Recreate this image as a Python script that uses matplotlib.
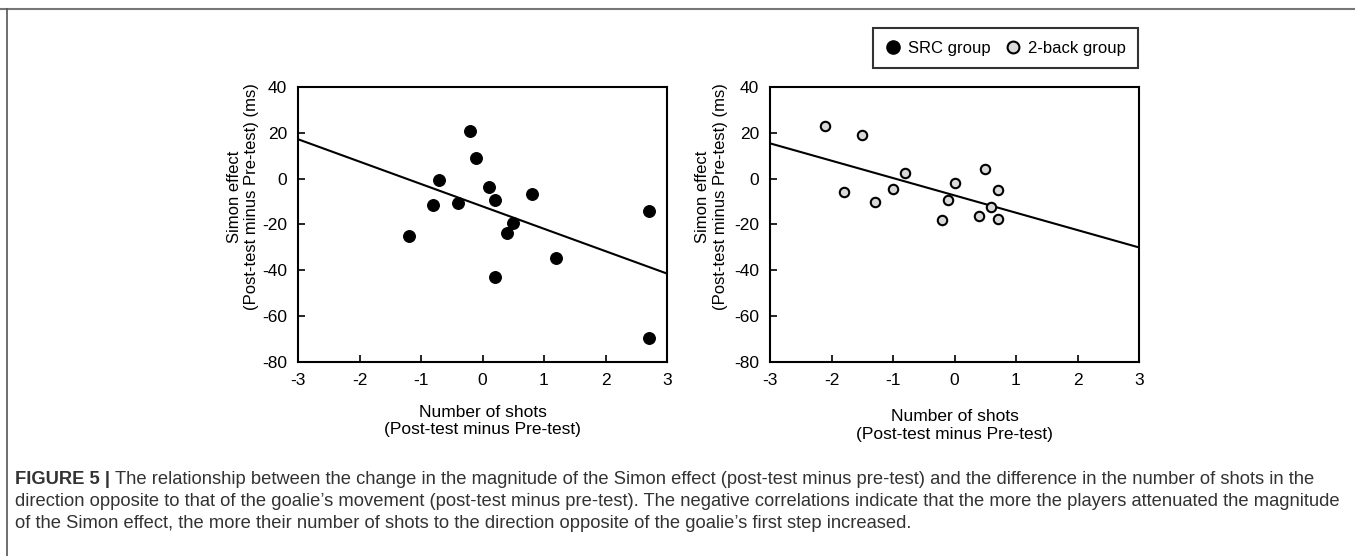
import numpy as np
import matplotlib.pyplot as plt
from matplotlib.lines import Line2D

plt.rcParams['font.family'] = ['Liberation Sans', 'DejaVu Sans']
plt.rcParams['axes.unicode_minus'] = False

# SRC group (left panel)
src_x = [-0.2, -0.1, -0.7, 0.1, 0.8, -0.8, -0.4, 0.2, 0.5, 0.4, -1.2, 1.2, 0.2, 2.7, 2.7]
src_y = [21, 9, -0.5, -3.5, -6.5, -11.5, -10.5, -9.5, -19.5, -23.5, -25, -34.5, -43, -14, -69.5]
src_fit = [-9.77, -12.1]   # slope, intercept

# 2-back group (right panel)
nb_x = [-2.1, -1.5, -1.8, -1.3, -1.0, -0.8, 0.0, -0.1, -0.2, 0.5, 0.7, 0.6, 0.4, 0.7]
nb_y = [23, 19, -6, -10, -4.5, 2.5, -2, -9.5, -18, 4, -5, -12.5, -16.5, -17.5]
nb_fit = [-7.57, -7.3]

x_ticks = [-3, -2, -1, 0, 1, 2, 3]
y_ticks = [40, 20, 0, -20, -40, -60, -80]

caption = [
    "The relationship between the change in the magnitude of the Simon effect (post-test minus pre-test) and the difference in the number of shots in the",
    "direction opposite to that of the goalie\u2019s movement (post-test minus pre-test). The negative correlations indicate that the more the players attenuated the magnitude",
    "of the Simon effect, the more their number of shots to the direction opposite of the goalie\u2019s first step increased.",
]

W, H = 1355, 556
fig = plt.figure(figsize=(W / 100, H / 100), dpi=100)

# outer frame (top and left edges)
fig.add_artist(Line2D([0, 1], [1 - 8.5 / H, 1 - 8.5 / H], color='#777777', lw=1.5))
fig.add_artist(Line2D([7.5 / W, 7.5 / W], [0, 1 - 8.5 / H], color='#555555', lw=1.2))


def panel(left, xs, ys, fit, face, size, lw, xlab_y, ylab_x):
    ax = fig.add_axes([left / W, 1 - 362 / H, 369 / W, 275 / H])
    ax.scatter(xs, ys, s=size, c=face, edgecolors='black', linewidths=lw, zorder=3)
    lx = np.array([-3, 3])
    ax.plot(lx, fit[0] * lx + fit[1], color='black', lw=1.5, zorder=2)
    ax.set_xlim(-3, 3)
    ax.set_ylim(-80, 40)
    ax.set_xticks(x_ticks)
    ax.set_yticks(y_ticks)
    ax.tick_params(direction='in', length=5, width=1.2, labelsize=12.5, pad=8,
                   top=False, right=False)
    for s in ax.spines.values():
        s.set_linewidth(1.5)
    ax.set_xlabel('Number of shots\n(Post-test minus Pre-test)', fontsize=12.5,
                  linespacing=1.2)
    ax.set_ylabel('Simon effect\n(Post-test minus Pre-test) (ms)', fontsize=12,
                  linespacing=1.2)
    ax.xaxis.set_label_coords(0.5, xlab_y)
    ax.yaxis.set_label_coords(ylab_x, 0.6)
    return ax


panel(298, src_x, src_y, src_fit, 'black', 72, 0.8, -0.155, -0.105)
panel(770, nb_x, nb_y, nb_fit, '#d9d9d9', 46, 1.5, -0.172, -0.115)

# legend
handles = [
    Line2D([], [], marker='o', ls='', markersize=9.5, markerfacecolor='black',
           markeredgecolor='black', label='SRC group'),
    Line2D([], [], marker='o', ls='', markersize=8.5, markerfacecolor='#d9d9d9',
           markeredgecolor='black', markeredgewidth=1.5, label='2-back group'),
]
leg = fig.legend(handles=handles, loc='upper right', ncol=2,
                 bbox_to_anchor=(1138 / W, 1 - 28 / H), fontsize=12,
                 frameon=True, fancybox=False, edgecolor='black',
                 handletextpad=0.4, columnspacing=0.8, handlelength=1.0,
                 borderpad=0.75, borderaxespad=0)
leg.get_frame().set_linewidth(1.5)

# caption
cap_kw = dict(fontsize=13.2, color='#333333', va='center', ha='left')
head = fig.text(15 / W, 1 - 479 / H, 'FIGURE 5 |', fontweight='bold', **cap_kw)
fig.canvas.draw()
bb = head.get_window_extent()
fig.text((bb.x1 + 5) / W, 1 - 479 / H, caption[0], **cap_kw)
fig.text(15 / W, 1 - 501 / H, caption[1], **cap_kw)
fig.text(15 / W, 1 - 523 / H, caption[2], **cap_kw)

fig.savefig('out.png', dpi=100)
